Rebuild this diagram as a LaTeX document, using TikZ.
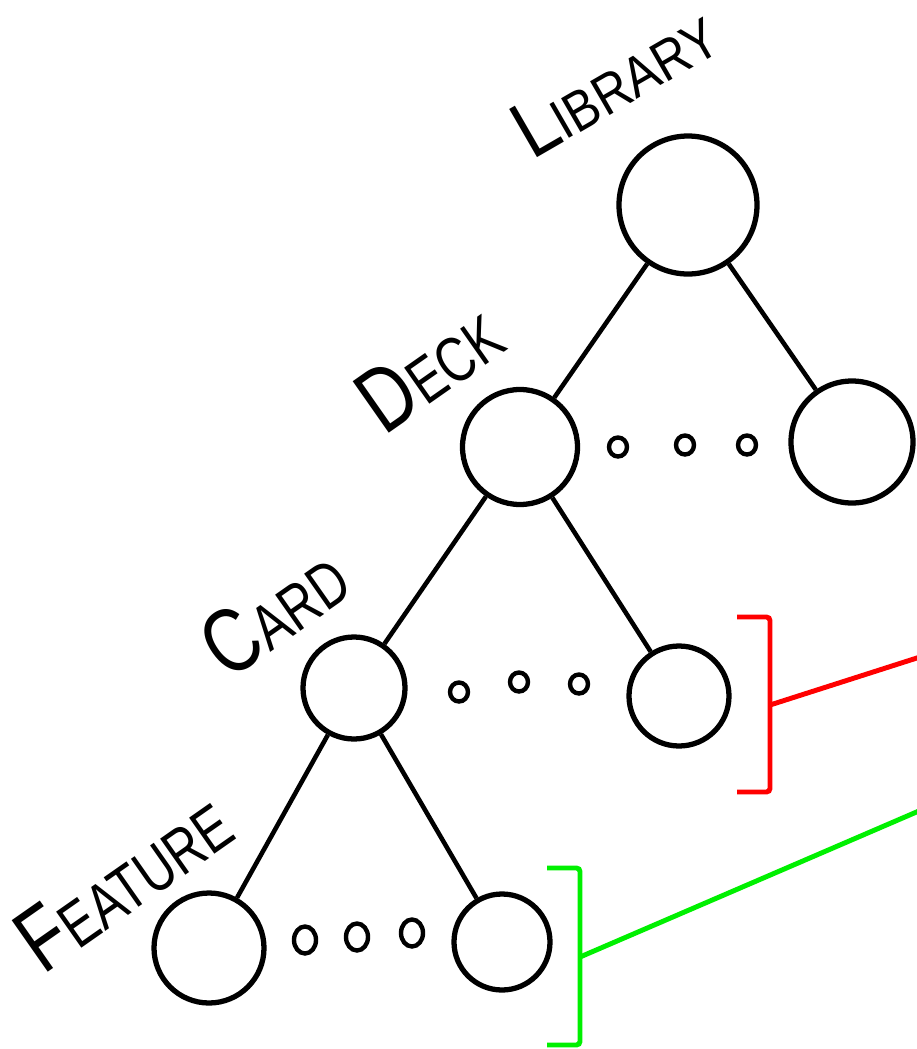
\documentclass[tikz,border=0pt]{standalone}
\usepackage{fontspec}
\setmainfont{Liberation Sans}
\usetikzlibrary{positioning, shapes.geometric}
\definecolor{bracketred}{RGB}{255, 0, 0}
\definecolor{bracketgreen}{RGB}{0, 240, 0}
\newcommand{\handlabel}[3][1.3]{\scalebox{1}[#1]{{\fontsize{40}{40}\selectfont #2}{\fontsize{28}{28}\selectfont #3}}}
\begin{document}
\begin{tikzpicture}[
    node/.style={circle, draw=black, line width=3pt, inner sep=0pt},
    dot/.style={ellipse, draw=black, line width=2.5pt, inner sep=0pt,
                minimum width=0.36cm, minimum height=0.38cm},
    bigdot/.style={dot, minimum width=0.44cm, minimum height=0.54cm},
    edge/.style={line width=2.6pt, black},
    level/.style={inner sep=0pt, anchor=center, rotate=35},
    bracket/.style={line width=2.8pt, rounded corners=2pt}
]
    \useasboundingbox (0,0) rectangle (18.34,-20.98);

    \node[node, minimum size=2.76cm] (library) at (13.76,-4.10) {};
    \node[node, minimum size=2.30cm] (deck) at (10.40,-8.94) {};
    \node[node, minimum size=2.44cm] (lastdeck) at (17.04,-8.84) {};
    \node[node, minimum size=2.04cm] (card) at (7.08,-13.76) {};
    \node[node, minimum size=2.00cm] (lastcard) at (13.58,-13.92) {};
    \node[node, minimum size=2.20cm] (feature) at (4.18,-18.96) {};
    \node[node, minimum size=1.92cm] (lastfeature) at (10.04,-18.84) {};

    \node[dot] (deckdota) at (12.36,-8.94) {};
    \node[dot] (deckdotb) at (13.70,-8.90) {};
    \node[dot] (deckdotc) at (14.94,-8.90) {};
    \node[dot] (carddota) at (9.18,-13.84) {};
    \node[dot] (carddotb) at (10.38,-13.64) {};
    \node[dot] (carddotc) at (11.58,-13.68) {};
    \node[bigdot] (featdota) at (6.10,-18.80) {};
    \node[bigdot] (featdotb) at (7.14,-18.74) {};
    \node[bigdot] (featdotc) at (8.24,-18.66) {};

    \node[level, rotate=-5] (librarylabel) at (12.28,-1.62) {\handlabel[1.15]{L}{IBRARY}};
    \node[level] (decklabel) at (8.58,-7.34) {\handlabel{D}{ECK}};
    \node[level] (cardlabel) at (5.48,-12.22) {\handlabel{C}{ARD}};
    \node[level] (featurelabel) at (2.46,-17.62) {\handlabel{F}{EATURE}};

    \draw[edge] (library) -- (deck);
    \draw[edge] (library) -- (lastdeck);
    \draw[edge] (deck) -- (card);
    \draw[edge] (deck) -- (lastcard);
    \draw[edge] (card) -- (feature);
    \draw[edge] (card) -- (lastfeature);

    \coordinate (redtop) at (14.74,-12.34);
    \coordinate (redbottom) at (14.74,-15.84);
    \coordinate (redmid) at (15.40,-14.10);
    \coordinate (redend) at (18.40,-13.14);
    \draw[bracket, bracketred] (redtop) -| (redmid) |- (redbottom);
    \draw[bracket, bracketred] (redmid) -- (redend);

    \coordinate (greentop) at (10.94,-17.36);
    \coordinate (greenbottom) at (10.94,-20.90);
    \coordinate (greenmid) at (11.60,-19.14);
    \coordinate (greenend) at (18.40,-16.21);
    \draw[bracket, bracketgreen] (greentop) -| (greenmid) |- (greenbottom);
    \draw[bracket, bracketgreen] (greenmid) -- (greenend);
\end{tikzpicture}
\end{document}
